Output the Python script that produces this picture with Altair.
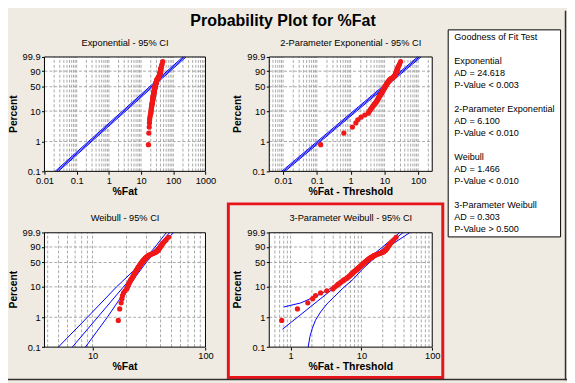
import math
import altair as alt
import pandas as pd

# ---------------- data ----------------
fat = [16.9, 17.4, 17.9, 18.2, 18.4, 18.8, 19.4, 20.1, 20.3, 20.6,
       20.8, 21.1, 21.3, 21.6, 21.8, 22.1, 22.4, 22.6, 22.8, 23.0,
       23.2, 23.3, 23.5, 23.7, 23.8, 24.0, 24.2, 24.4, 24.6, 24.8,
       24.9, 25.1, 25.3, 25.4, 25.6, 25.8, 25.9, 26.1, 26.3, 26.4,
       26.6, 26.7, 26.9, 27.1, 27.3, 27.4, 27.6, 27.8, 28.0, 28.2,
       28.4, 28.6, 28.8, 29.0, 29.2, 29.4, 29.7, 30.0, 30.3, 30.6,
       30.9, 31.2, 31.5, 32.0, 32.6, 33.3, 34.0, 34.6, 35.2, 35.8,
       36.4, 36.9, 37.3, 37.7, 38.0, 38.3, 38.6, 38.9, 39.2, 39.5,
       39.8, 40.2, 40.6, 41.1, 41.6, 42.3, 43.3, 44.8, 47.0]

dist_names = ["Exponential", "2-Parameter Exponential", "Weibull", "3-Parameter Weibull"]
ad_values = ["24.618", "6.100", "1.466", "0.303"]
p_values = ["< 0.003", "< 0.010", "< 0.010", "> 0.500"]
thresholds = [0.0, 16.77, 0.0, 16.15]
panel_titles = ["Exponential - 95% CI", "2-Parameter Exponential - 95% CI",
                "Weibull - 95% CI", "3-Parameter Weibull - 95% CI"]
x_titles = ["%Fat", "%Fat - Threshold", "%Fat", "%Fat - Threshold"]
x_domains = [[0.01, 1000], [0.0039, 261], [3.75, 100], [0.5, 100]]
x_ticks = [[0.01, 0.1, 1, 10, 100, 1000], [0.01, 0.1, 1, 10, 100], [10, 100], [1, 10, 100]]
pct_ticks = [0.1, 1, 10, 50, 90, 99.9]
pct_grid = [1, 10, 50, 90]

# fitted line and 95% CI curves: (percent, x) pairs per panel
fit_pct = [[0.1, 99.9], [0.1, 99.9], [0.1, 99.9], [0.40, 99.9]]
fit_x = [[0.024, 222], [0.0102, 108], [6.61, 47.9], [0.77, 38.5]]
lo_pct = [[0.1, 99.9], [0.1, 99.9], [0.1, 1, 10, 50, 90, 99.9],
          [2.2, 3.0, 5.2, 10.2, 20, 50, 90, 99.9]]
lo_x = [[0.0214, 198], [0.0091, 96.4], [4.97, 9.0, 16.3, 27.5, 35.8, 44.9],
        [0.80, 1.39, 2.38, 4.07, 5.9, 10.7, 19.9, 34.5]]
hi_pct = [[0.1, 99.9], [0.1, 99.9], [0.1, 1, 10, 50, 90, 99.9],
          [0.1, 0.23, 0.43, 0.8, 1.5, 2.83, 4.6, 9.6, 17.5, 31.8, 50, 90, 99.9]]
hi_x = [[0.0269, 249], [0.0114, 121], [8.64, 13.5, 20.6, 29.8, 39.4, 52.0],
        [1.77, 1.88, 2.03, 2.25, 2.65, 3.28, 4.07, 5.62, 7.7, 10.0, 13.0, 23.8, 47.8]]

# ---------------- layout ----------------
W, H = 567, 375
FONT = "Liberation Sans"
BG = "#efeae2"
# plot boxes in chart pixels: left, right, top, bottom
boxes = [(37, 200.3, 47, 163), (265, 430.3, 47, 163),
         (37, 200.3, 225.3, 341.3), (265, 430.3, 225.3, 341.3)]


def vtrans(p):
    return math.log(-math.log(1 - p / 100.0))


VMIN, VMAX = vtrans(0.1), vtrans(99.9)
VEXPR = "log(-log(1 - datum.pct / 100))"


def minor_grid(lo, hi):
    out = []
    for e in range(-4, 4):
        for m in range(1, 10):
            g = m * 10.0 ** e
            if lo * 1.001 < g < hi * 0.999:
                out.append(g)
    return out


def panel(k):
    left, right, top, bottom = boxes[k]
    x0, x1 = x_domains[k]
    T = thresholds[k]
    xs = alt.Scale(type="log", domain=[x0, x1], range=[left, right], nice=False)
    ys = alt.Scale(type="linear", domain=[VMIN, VMAX], range=[bottom, top], nice=False, zero=False)
    xa = alt.Axis(orient="bottom", offset=bottom - H, values=x_ticks[k], format="~g",
                  title=None, grid=False, domain=False, tickSize=3, labelPadding=2,
                  labelFlush=False, labelOverlap=False, labelFont=FONT, labelFontSize=9.4,
                  labelColor="black", tickColor="black")
    ya = alt.Axis(orient="left", offset=-left, values=[vtrans(p) for p in pct_ticks],
                  labelExpr="format(round((1-exp(-exp(datum.value)))*1000)/10, '~f')",
                  title=None, grid=False, domain=False, tickSize=3, labelPadding=1.5,
                  labelFlush=False, labelOverlap=False, labelFont=FONT, labelFontSize=9.4,
                  labelColor="black", tickColor="black")

    def X(f):
        return alt.X(f, type="quantitative", scale=xs, axis=xa)

    def Y(f):
        return alt.Y(f, type="quantitative", scale=ys, axis=ya)

    frame_df = pd.DataFrame({"x": [x0], "x2": [x1], "v": [VMIN], "v2": [VMAX]})
    frame_fill = alt.Chart(frame_df).mark_rect(fill="white", stroke=None).encode(
        x=X("x"), x2="x2", y=Y("v"), y2="v2")
    frame_line = alt.Chart(frame_df).mark_rect(fill=None, stroke="black", strokeWidth=1).encode(
        x=X("x"), x2="x2", y=Y("v"), y2="v2")

    gx = minor_grid(x0, x1)
    gx_df = pd.DataFrame({"x": gx, "v": [VMIN] * len(gx), "v2": [VMAX] * len(gx)})
    grid_x = alt.Chart(gx_df).mark_rule(color="#a9a9a9", strokeWidth=1, strokeDash=[3, 2]).encode(
        x=X("x"), y=Y("v"), y2="v2")
    gy_df = pd.DataFrame({"v": [vtrans(p) for p in pct_grid], "x": [x0] * len(pct_grid),
                          "x2": [x1] * len(pct_grid)})
    grid_y = alt.Chart(gy_df).mark_rule(color="#a9a9a9", strokeWidth=1, strokeDash=[3, 2]).encode(
        y=Y("v"), x=X("x"), x2="x2")

    rows = []
    for name, ps, xv in (("fit", fit_pct[k], fit_x[k]), ("lo", lo_pct[k], lo_x[k]),
                         ("hi", hi_pct[k], hi_x[k])):
        for p, xx in zip(ps, xv):
            rows.append({"series": name, "pct": p, "x": xx})
    lines = alt.Chart(pd.DataFrame(rows)).transform_calculate(v=VEXPR).mark_line(
        color="#0000ff", strokeWidth=1).encode(
        x=X("x"), y=Y("v"), detail="series:N", order="pct:Q")

    pts = alt.Chart(pd.DataFrame({"fat": fat})).transform_calculate(
        x=f"datum.fat - {T}"
    ).transform_window(
        rank="row_number()", sort=[alt.SortField("x", order="ascending")]
    ).transform_joinaggregate(
        n="count()"
    ).transform_calculate(
        pct="(datum.rank - 0.3) / (datum.n + 0.4) * 100"
    ).transform_calculate(
        v=VEXPR
    ).mark_circle(size=28, color="#f01818", opacity=1).encode(x=X("x"), y=Y("v"))

    return alt.layer(frame_fill, grid_x, grid_y, lines, pts, frame_line)


one = alt.Data(values=[{"a": 1}])


def label(text, x, y, size=9.4, bold=False, angle=0, align="center", baseline="alphabetic"):
    return alt.Chart(one).mark_text(
        text=text, font=FONT, fontSize=size, fontWeight="bold" if bold else "normal",
        angle=angle, align=align, baseline=baseline, color="black"
    ).encode(x=alt.value(x), y=alt.value(y))


layers = []
for k in range(4):
    layers.append(panel(k))

texts = [label("Probability Plot for %Fat", 279, 15.5, size=16.2, bold=True)]
centers = [(118.7, 36, 187, 105), (347.7, 36, 187, 105), (118.7, 213, 365, 283), (347.7, 213, 365, 283)]
ytitle_x = [6, 233, 6, 233]
for k, (cx, ty, xty, cy) in enumerate(centers):
    texts.append(label(panel_titles[k], cx, ty, size=9.4))
    texts.append(label(x_titles[k], cx, xty, size=10.6, bold=True))
    texts.append(label("Percent", ytitle_x[k], cy, size=10.4, bold=True, angle=270, baseline="middle"))

# goodness of fit box
legend_lines = ["Goodness of Fit Test"]
for nm, ad, pv in zip(dist_names, ad_values, p_values):
    legend_lines += ["", nm, "AD = " + ad, "P-Value " + pv]
legend_df = pd.DataFrame({"idx": list(range(len(legend_lines))), "line": legend_lines})
legend_box = alt.Chart(one).mark_rect(fill="white", stroke="black", strokeWidth=1).encode(
    x=alt.value(446.5), x2=alt.value(560.5), y=alt.value(19.5), y2=alt.value(229.5))
legend_text = alt.Chart(legend_df).mark_text(
    font=FONT, fontSize=9.2, align="left", baseline="middle", color="black"
).encode(
    x=alt.value(452.7),
    y=alt.Y("idx:Q", scale=alt.Scale(domain=[0, 16], range=[26.3, 221.3], nice=False, zero=False), axis=None),
    text="line:N")

red_box = alt.Chart(one).mark_rect(fill=None, stroke="#e8141c", strokeWidth=3).encode(
    x=alt.value(223.5), x2=alt.value(441), y=alt.value(196), y2=alt.value(372))
edge_r = alt.Chart(one).mark_rule(color="#303030", strokeWidth=1.5).encode(
    x=alt.value(565.5), y=alt.value(0), y2=alt.value(375))
edge_b = alt.Chart(one).mark_rule(color="#303030", strokeWidth=1.5).encode(
    x=alt.value(0), x2=alt.value(567), y=alt.value(374.2))

chart = alt.layer(
    *layers, *texts, legend_box, legend_text, red_box, edge_r, edge_b
).resolve_scale(
    x="independent", y="independent"
).resolve_axis(
    x="independent", y="independent"
).properties(
    width=W, height=H, autosize=alt.AutoSizeParams(type="none"), padding=0, background=BG
).configure_view(stroke=None)

chart.save("out.html", embed_options={"renderer": "svg", "actions": False})
